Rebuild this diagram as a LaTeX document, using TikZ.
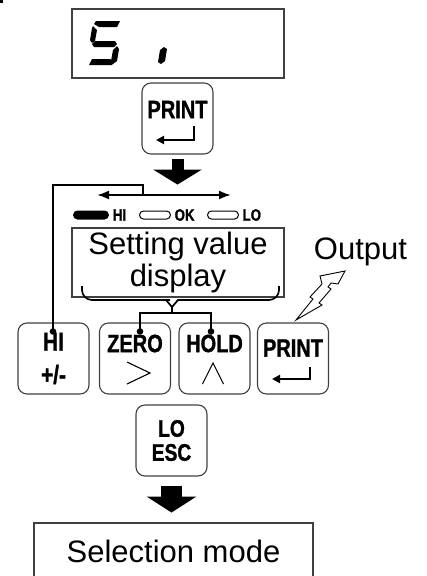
\documentclass[tikz,border=0pt]{standalone}
\usepackage{fontspec}
\setmainfont{Liberation Sans}
\newfontfamily\keyfont[FakeStretch=0.8, FakeBold=1.2]{Liberation Sans}
\usetikzlibrary{arrows.meta, positioning, calc}

\begin{document}
\begin{tikzpicture}[x=1pt, y=-1pt, >=Latex,
    panel/.style={draw=black!75, line width=1.1pt, minimum width=212pt,
                  minimum height=69pt, inner sep=0pt, align=center,
                  font=\fontsize{31}{32}\selectfont},
    keybox/.style={draw=black!75, line width=1.1pt, rounded corners=9pt,
                   minimum width=71pt, minimum height=71pt, inner sep=0pt,
                   align=center, font=\keyfont\bfseries\fontsize{25}{25}\selectfont},
    keylabel/.style={inner sep=0pt, font=\keyfont\bfseries\fontsize{25}{25}\selectfont},
    ledon/.style={fill=black, rounded corners=4.5pt, minimum width=36pt,
                  minimum height=9pt, inner sep=0pt},
    ledoff/.style={draw=black, line width=1pt, rounded corners=4pt,
                   minimum width=31pt, minimum height=8pt, inner sep=0pt},
    ledtext/.style={inner sep=0pt, anchor=west, right=3.5pt of #1,
                    font=\keyfont\bfseries\fontsize{16.5}{16}\selectfont},
    wire/.style={line width=2pt},
    thinwire/.style={line width=1.1pt},
    bigarrow/.style={line width=#1},
    seg/.style={fill=black}]

  \useasboundingbox (0,0) rectangle (426,576);
  \fill (0,0) rectangle (3,3);

  % seven segment display
  \node[panel] (disp) at (178,43.5) {};
  \fill[seg] (96,21) -- (120,21) -- (117,27) -- (99,27) -- (94,24) -- cycle;
  \fill[seg] (93,26) -- (97,30) -- (95,41) -- (92,43) -- (90,40) -- (92,28) -- cycle;
  \fill[seg] (95,41) -- (115,41) -- (117,44) -- (114,47) -- (94,47) -- (92,44) -- cycle;
  \fill[seg] (117,46) -- (119,49) -- (117,61) -- (113,64) -- (111,61) -- (113,50) -- cycle;
  \fill[seg] (92,59) -- (110,59) -- (114,62) -- (112,65) -- (89,65) -- cycle;
  \fill[seg] (164,47) -- (167,49) -- (165,61) -- (161,64) -- (158,62) -- (160,50) -- cycle;

  \node[keybox] (print1) at (177.5,118.5) {};
  \node[keylabel] (print1t) at ($(print1.center)+(0,-9)$) {PRINT};
  \draw[wire, -{Triangle[length=8pt, width=8pt]}]
    ($(print1.center)+(16.5,7.5)$) |- ($(print1.center)+(-21.5,21.5)$);

  \draw[bigarrow=12pt, -{Triangle[length=15pt, width=48pt]}]
    ($(print1.south)+(0,4)$) -- ++(0,26);

  % comparator lamps
  \coordinate (split) at (143,195);
  \coordinate (arL) at (97,195);
  \coordinate (arR) at (231,195);
  \draw[wire, <->] (arL) -- (arR);

  \node[ledon] (hiled) at (91,215) {};
  \node[ledtext=hiled] (hitext) {HI};
  \node[ledoff] (okled) at (155,215) {};
  \node[ledtext=okled] (oktext) {OK};
  \node[ledoff] (loled) at (223,215) {};
  \node[ledtext=loled] (lotext) {LO};

  \node[panel] (setting) at (178,262.5) {Setting value\\display};
  \coordinate (brtip) at (172,307);
  \coordinate (junc) at (172,313);
  \draw[wire, line width=1.7pt, rounded corners=10pt] (82,286) |- (160,300)
    [sharp corners] -- (166,300) -- (brtip) -- (178,300) -- (184,300)
    [rounded corners=10pt] -| (279,286);

  \node[keybox, font=\keyfont\bfseries\fontsize{26}{33}\selectfont] (hikey)
    at (53.5,358.5) {HI\\+/-};
  \node[keybox] (zero) at (135,358.5) {};
  \node[keylabel] (zerot) at ($(zero.center)+(0,-15)$) {ZERO};
  \node[keybox] (hold) at (214.5,358.5) {};
  \node[keylabel] (holdt) at ($(hold.center)+(0,-15)$) {HOLD};
  \node[keybox] (print2) at (293,358.5) {};
  \node[keylabel] (print2t) at ($(print2.center)+(0,-10.5)$) {PRINT};
  \draw[wire, -{Triangle[length=8pt, width=8pt]}]
    ($(print2.center)+(17,8.5)$) |- ($(print2.center)+(-21,20.5)$);

  \draw[thinwire] ($(zero.center)+(-8,3.5)$) -- ($(zero.center)+(15,14.5)$)
    -- ($(zero.center)+(-8,25.5)$);
  \draw[thinwire] ($(hold.center)+(-12,25.5)$) -- ($(hold.center)+(-1.5,4.5)$)
    -- ($(hold.center)+(9,25.5)$);

  \coordinate (hidot) at ($(hikey.north)+(-0.5,9)$);
  \coordinate (zdot) at ($(zero.north)+(5,9)$);
  \coordinate (hdot) at ($(hold.north)+(-3.5,9)$);
  \fill (hidot) circle (3.3);
  \fill (zdot) circle (3.3);
  \fill (hdot) circle (3.3);

  \draw[wire] (hidot) |- ($(split)+(0,-10)$) -- (split);
  \draw[wire] (brtip) -- (junc);
  \draw[wire] (zdot) -- (zdot |- junc) -| (hdot);

  \node[font=\fontsize{31}{34}\selectfont, inner sep=0pt] (output) at (360.5,252) {Output};
  \draw[thinwire, line width=0.9pt, line join=miter]
    (296,320) -- (313,299) -- (310,297) -- (322,284) -- (320,276)
    -- (345,271) -- (338,284) -- (331,283) -- (328,287) -- (331,289)
    -- (319,303) -- (322,305) -- cycle;

  \node[keybox, font=\keyfont\bfseries\fontsize{24}{24}\selectfont] (loesc)
    at (171.5,440.5) {LO\\ESC};
  \draw[bigarrow=21pt, -{Triangle[length=16pt, width=49pt]}]
    ($(loesc.south)+(0,9)$) -- ++(0,27);

  \node[draw=black!75, line width=1.1pt, minimum width=279pt, minimum height=56pt,
        inner sep=0pt, font=\fontsize{31}{34}\selectfont] (selmode) at (173.5,551)
        {Selection mode};
\end{tikzpicture}
\end{document}
